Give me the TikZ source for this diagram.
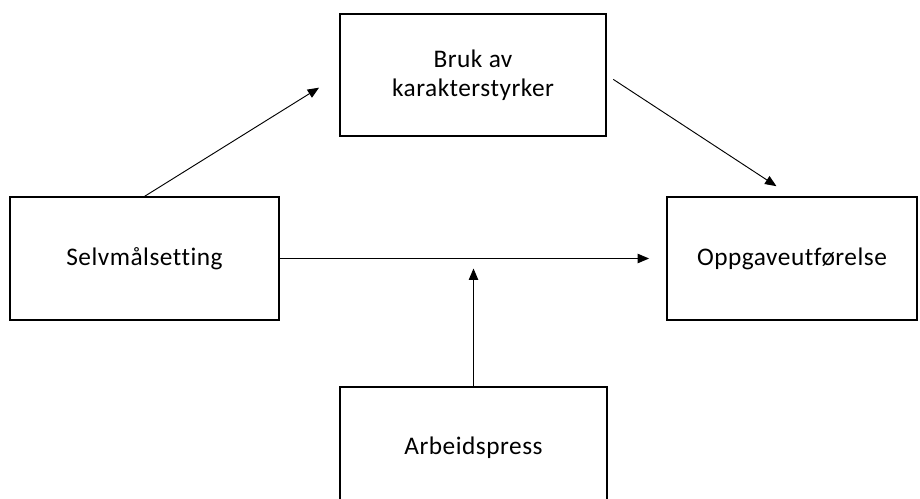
\documentclass[tikz,border=0pt]{standalone}
\usepackage{fontspec}
\setmainfont{Carlito}[Ligatures=NoCommon, LetterSpace=2]
\usetikzlibrary{arrows.meta}

\begin{document}
\begin{tikzpicture}[x=0.75pt,y=-0.75pt,
    box/.style={draw, line width=0.9pt, inner sep=0pt, align=center,
        font=\fontsize{19}{21.5}\selectfont},
    pil/.style={-{Triangle[length=8.5pt,width=7pt]}, line width=0.7pt}]
    \useasboundingbox (0,0) rectangle (920,499);

    % Boxes
    \node[box, minimum width=201.75pt, minimum height=92.25pt] (sel) at (144.5,258.5) {Selvmålsetting};
    \node[box, minimum width=199.5pt, minimum height=91.5pt] (bruk) at (473,75) {Bruk av\\karakterstyrker};
    \node[box, minimum width=187.5pt, minimum height=92.25pt] (opp) at (792,258.5) {Oppgaveutførelse};
    \node[box, minimum width=200.25pt, minimum height=91.5pt] (arb) at (473.5,448) {Arbeidspress};
    \coordinate (midt) at (473.5,258.5);

    % Arrows
    \draw[pil, shorten >=18pt] (sel.north) -- (bruk.west);
    \draw[pil, shorten <=6pt, shorten >=14pt] (bruk.east) -- (opp.north);
    \draw[pil, shorten >=13pt] (sel.east) -- (opp.west);
    \draw[pil, shorten >=7.5pt] (arb.north) -- (midt);
\end{tikzpicture}
\end{document}
